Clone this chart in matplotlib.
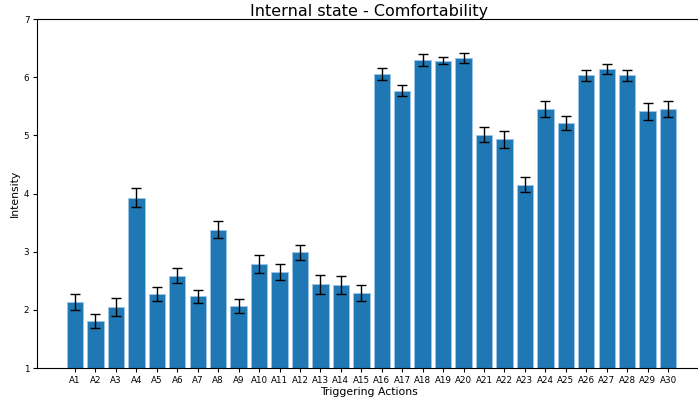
import numpy as np
import matplotlib.pyplot as plt

# 数据
actions = ['A%d' % i for i in range(1, 31)]
means = [2.14, 1.81, 2.05, 3.93, 2.27, 2.59, 2.23, 3.38, 2.06, 2.79,
         2.65, 2.99, 2.44, 2.43, 2.29, 6.05, 5.77, 6.29, 6.28, 6.33,
         5.01, 4.93, 4.15, 5.45, 5.21, 6.03, 6.14, 6.03, 5.41, 5.45]
errors = [0.135, 0.12, 0.15, 0.16, 0.125, 0.135, 0.11, 0.14, 0.12, 0.15,
          0.13, 0.13, 0.16, 0.15, 0.14, 0.10, 0.10, 0.10, 0.06, 0.09,
          0.13, 0.14, 0.13, 0.14, 0.12, 0.10, 0.08, 0.09, 0.15, 0.14]


def main():
    fig = plt.figure(figsize=(6.98, 4.0), dpi=100)
    ax = fig.add_axes([0.053, 0.08, 0.951, 0.8725])

    x = np.arange(len(actions))
    ax.bar(x, means, width=0.8, color='#1f77b4', edgecolor='#9ec5e8', linewidth=0.6,
           yerr=errors, capsize=3.5, error_kw={'elinewidth': 1.0, 'capthick': 1.0, 'ecolor': 'black'})

    ax.set_xticks(x)
    ax.set_xticklabels(actions)
    ax.tick_params(axis='both', labelsize=6.3, length=3, pad=2.5)
    ax.set_xlim(-1.86, 30.6)
    ax.set_ylim(1, 7)

    ax.set_title('Internal state - Comfortability', fontsize=11.5, pad=2)
    ax.set_xlabel('Triggering Actions', fontsize=7.8, labelpad=2)
    ax.set_ylabel('Intensity', fontsize=7.8, labelpad=3)

    plt.savefig('out.png', dpi=100)
    plt.close()


if __name__ == "__main__":
    main()
